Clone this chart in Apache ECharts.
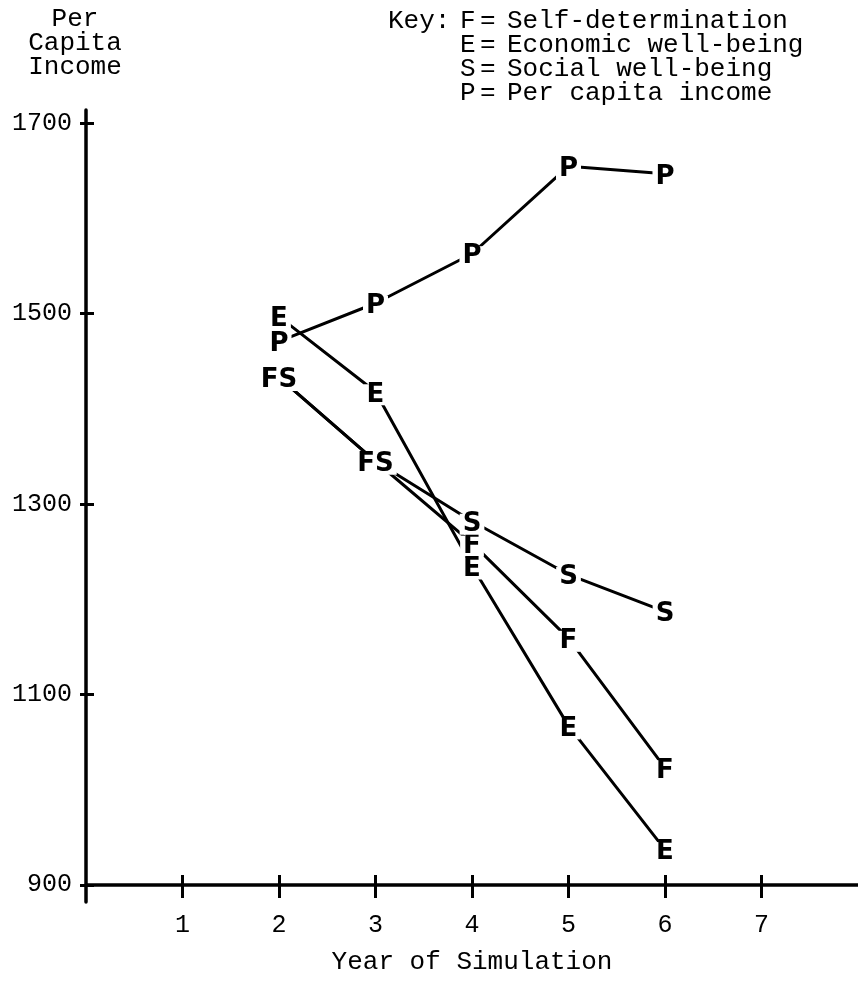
<!DOCTYPE html>
<html>
<head>
<meta charset="utf-8">
<script src="https://cdn.jsdelivr.net/npm/echarts@6/dist/echarts.min.js"></script>
<style>
html,body{margin:0;padding:0;background:#fff;}
#chart{width:858px;height:981px;}
</style>
</head>
<body>
<div id="chart"></div>
<script>
// ---- data ----
const years = [2, 3, 4, 5, 6];
const selfDetermination = [1433, 1345, 1259, 1159, 1023]; // F
const economicWellBeing = [1497, 1418, 1235, 1067, 937];  // E
const socialWellBeing   = [1433, 1345, 1282, 1226, 1187]; // S
const perCapitaIncome   = [1471, 1511, 1563, 1655, 1647]; // P
const xTickValues = [1, 2, 3, 4, 5, 6, 7];
const yTickValues = [900, 1100, 1300, 1500, 1700];
const keyLetters = ['F', 'E', 'S', 'P'];
const keyNames = ['Self-determination', 'Economic well-being', 'Social well-being', 'Per capita income'];

const monoFont = 'Liberation Mono';
const markFont = 'DejaVu Sans';

function pts(vals) { return years.map((x, i) => [x, vals[i]]); }

function lineSeries(vals) {
  return {
    type: 'line', data: pts(vals), symbol: 'none', silent: true, z: 2,
    lineStyle: { color: '#000', width: 3 }, animation: false
  };
}

function markSeries(vals, letter, overrides) {
  return {
    type: 'scatter', z: 5, silent: true, animation: false,
    symbolSize: 0, itemStyle: { color: 'transparent', opacity: 1 },
    data: years.map((x, i) => {
      const item = { value: [x, vals[i]] };
      if (overrides && overrides[i]) item.label = overrides[i];
      return item;
    }),
    label: {
      show: true, position: 'inside', formatter: letter, offset: [0, 3],
      fontFamily: markFont, fontWeight: 'bold', fontSize: 26, color: '#000',
      lineHeight: 19,
      textBorderWidth: 0, textBorderColor: 'transparent',
      backgroundColor: '#fff', padding: [1, 3]
    }
  };
}

// F and S coincide in years 2 and 3: drawn as one "FS" mark
const fOverrides = { 0: { formatter: 'FS' }, 1: { formatter: 'FS' } };
const sOverrides = { 0: { show: false }, 1: { show: false } };

const axisBlack = { color: '#000', width: 3.5 };
const tickBlack = { color: '#000', width: 3 };

const keyGraphics = [];
const keyRowY = [21, 45, 69, 93];
const keyFont = '26px "' + monoFont + '"';
keyGraphics.push({ type: 'text', left: 388, top: keyRowY[0] - 13,
  style: { text: 'Key:', font: keyFont, fill: '#000' } });
keyLetters.forEach((l, i) => {
  keyGraphics.push({ type: 'text', left: 460, top: keyRowY[i] - 13,
    style: { text: l, font: keyFont, fill: '#000' } });
  keyGraphics.push({ type: 'text', left: 480, top: keyRowY[i] - 13,
    style: { text: '=', font: keyFont, fill: '#000' } });
  keyGraphics.push({ type: 'text', left: 507, top: keyRowY[i] - 13,
    style: { text: keyNames[i], font: keyFont, fill: '#000' } });
});

const chart = echarts.init(document.getElementById('chart'), null, { renderer: 'canvas' });
chart.setOption({
  animation: false,
  backgroundColor: '#fff',
  grid: { left: 86, right: 0, top: 110, bottom: 79, containLabel: false, outerBoundsMode: 'none' },
  xAxis: [{
    type: 'value', min: 0, max: 8, position: 'bottom', offset: -17,
    axisLine: { show: true, onZero: false, lineStyle: axisBlack },
    axisTick: { show: true, customValues: xTickValues, length: 13, lineStyle: tickBlack },
    axisLabel: { show: true, customValues: xTickValues, margin: 28,
      fontFamily: monoFont, fontSize: 25, color: '#000', formatter: v => String(v) },
    splitLine: { show: false },
    name: 'Year of Simulation', nameLocation: 'middle', nameGap: 64,
    nameTextStyle: { fontFamily: monoFont, fontSize: 26, color: '#000' }
  }, {
    type: 'value', min: 0, max: 8, position: 'bottom', offset: -17,
    axisLine: { show: false, onZero: false },
    axisTick: { show: true, inside: true, customValues: xTickValues, length: 10, lineStyle: tickBlack },
    axisLabel: { show: false }, splitLine: { show: false }
  }],
  yAxis: [{
    type: 'value', min: 882, max: 1714, position: 'left',
    axisLine: { show: true, onZero: false, lineStyle: axisBlack },
    axisTick: { show: true, customValues: yTickValues, length: 6, lineStyle: tickBlack },
    axisLabel: { show: true, customValues: yTickValues, margin: 14,
      fontFamily: monoFont, fontSize: 25, color: '#000', formatter: v => String(v) },
    splitLine: { show: false },
    name: 'Per\nCapita\nIncome', nameLocation: 'end', nameGap: 31,
    nameTextStyle: { fontFamily: monoFont, fontSize: 26, color: '#000', lineHeight: 24,
      align: 'center', padding: [0, 22, 0, 0] }
  }, {
    type: 'value', min: 882, max: 1714, position: 'left',
    axisLine: { show: false, onZero: false },
    axisTick: { show: true, inside: true, customValues: yTickValues, length: 8, lineStyle: tickBlack },
    axisLabel: { show: false }, splitLine: { show: false }
  }],
  graphic: keyGraphics,
  series: [
    lineSeries(selfDetermination),
    lineSeries(economicWellBeing),
    lineSeries(socialWellBeing),
    lineSeries(perCapitaIncome),
    markSeries(selfDetermination, 'F', fOverrides),
    markSeries(economicWellBeing, 'E'),
    markSeries(socialWellBeing, 'S', sOverrides),
    markSeries(perCapitaIncome, 'P')
  ]
});
</script>
</body>
</html>
